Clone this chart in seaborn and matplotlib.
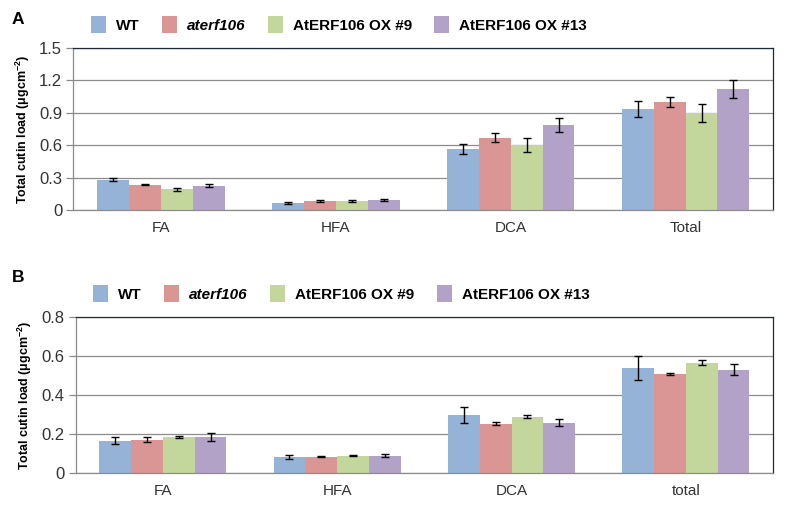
import numpy as np
import pandas as pd
import matplotlib
matplotlib.use("Agg")
import matplotlib.pyplot as plt
import seaborn as sns
from matplotlib.patches import Patch

# genotypes and fractions
genotypes = ["WT", "aterf106", "AtERF106 OX #9", "AtERF106 OX #13"]
fractions_a = ["FA", "HFA", "DCA", "Total"]
fractions_b = ["FA", "HFA", "DCA", "total"]
colors = ["#95B3D7", "#D99694", "#C3D69B", "#B3A2C7"]

# panel A means / errors (rows = genotype, cols = fraction)
mean_a = [[0.28, 0.068, 0.565, 0.935],
          [0.235, 0.083, 0.67, 1.00],
          [0.19, 0.085, 0.605, 0.895],
          [0.225, 0.093, 0.787, 1.12]]
err_a = [[0.015, 0.01, 0.05, 0.075],
         [0.005, 0.008, 0.04, 0.048],
         [0.01, 0.008, 0.066, 0.083],
         [0.015, 0.012, 0.065, 0.083]]

# panel B
mean_b = [[0.166, 0.084, 0.299, 0.54],
          [0.171, 0.084, 0.253, 0.509],
          [0.186, 0.089, 0.289, 0.566],
          [0.186, 0.089, 0.258, 0.53]]
err_b = [[0.018, 0.01, 0.042, 0.062],
         [0.012, 0.002, 0.007, 0.004],
         [0.005, 0.003, 0.008, 0.014],
         [0.02, 0.007, 0.019, 0.029]]

sns.set_style("white")
plt.rcParams['font.family'] = ['Liberation Sans', 'DejaVu Sans']
plt.rcParams['text.color'] = "black"
plt.rcParams['axes.labelcolor'] = "black"
plt.rcParams['xtick.color'] = "#333333"
plt.rcParams['ytick.color'] = "#333333"
plt.rcParams['mathtext.fontset'] = "custom"
plt.rcParams['mathtext.rm'] = "Liberation Sans:bold"
plt.rcParams['mathtext.bf'] = "Liberation Sans:bold"

fig = plt.figure(figsize=(7.88, 5.12), dpi=100)
ax_a = fig.add_axes([0.093, 0.590, 0.888, 0.316])
ax_b = fig.add_axes([0.096, 0.076, 0.885, 0.305])


def draw(ax, fractions, means, errs, ymax, step, letter, letter_y):
    rows = []
    for g, m_row in zip(genotypes, means):
        for f, m in zip(fractions, m_row):
            rows.append({"genotype": g, "fraction": f, "value": m})
    df = pd.DataFrame(rows)
    sns.barplot(data=df, x="fraction", y="value", hue="genotype",
                order=fractions, hue_order=genotypes, palette=colors,
                errorbar=None, width=0.73, saturation=1, ax=ax,
                legend=False, linewidth=0)
    for cont, e_row in zip(ax.containers, errs):
        for bar, e in zip(cont, e_row):
            x = bar.get_x() + bar.get_width() / 2
            ax.errorbar(x, bar.get_height(), yerr=e, color="black",
                        capsize=3, elinewidth=1, capthick=1)

    ax.set_ylim(0, ymax)
    ax.set_xlim(-0.5, 3.5)
    ticks = np.arange(0, ymax + step / 2, step)
    ax.set_yticks(ticks)
    ax.set_yticklabels(["0" if t == 0 else f"{t:.1f}" for t in ticks],
                       fontsize=12)
    ax.yaxis.grid(True, color="#8c8c8c", linewidth=0.9)
    ax.set_axisbelow(True)
    ax.set_xticks(range(4))
    ax.set_xticklabels(fractions, fontsize=11)
    ax.set_xticks(np.arange(-0.5, 4), minor=True)
    ax.tick_params(axis="x", which="major", length=0, pad=8)
    ax.tick_params(axis="x", which="minor", length=5, color="#8c8c8c", width=0.9)
    ax.tick_params(axis="y", length=5, color="#8c8c8c", width=0.9, left=True,
                   pad=3)
    ax.set_xlabel("")
    ax.set_ylabel("Total cutin load (\u03bcgcm$^{-2}$)", fontsize=9,
                  fontweight="bold", labelpad=5)
    for s in ["left", "bottom"]:
        ax.spines[s].set_color("#8c8c8c")
        ax.spines[s].set_linewidth(0.9)
    for s in ["top", "right"]:
        ax.spines[s].set_color("#1f2a36")
        ax.spines[s].set_linewidth(0.9)

    handles = [Patch(facecolor=c, edgecolor="none") for c in colors]
    leg = ax.legend(handles, genotypes, ncol=4, frameon=False,
                    loc="lower left", bbox_to_anchor=(0.016, 1.055),
                    prop={"weight": "bold", "size": 11},
                    handlelength=1.0, handleheight=1.35, columnspacing=1.45,
                    handletextpad=0.65, borderaxespad=0)
    leg.get_texts()[1].set_style("italic")
    fig.text(0.015, letter_y, letter, fontsize=12.5,
             fontweight="bold", va="center")


draw(ax_a, fractions_a, mean_a, err_a, 1.5, 0.3, "A", 1 - 20 / 512)
draw(ax_b, fractions_b, mean_b, err_b, 0.8, 0.2, "B", 1 - 278 / 512)

fig.savefig("out.png", dpi=100)
